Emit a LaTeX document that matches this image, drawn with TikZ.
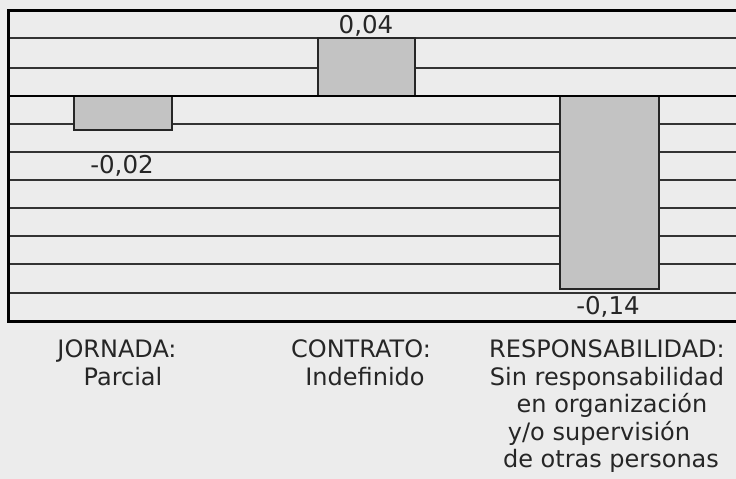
\documentclass[tikz,border=0pt]{standalone}
\usepackage{fontspec}
\setmainfont{DejaVu Sans}
\definecolor{bgc}{HTML}{ECECEC}
\definecolor{barc}{HTML}{C3C3C3}
\definecolor{gridc}{HTML}{333333}
\definecolor{txtc}{HTML}{262626}
\begin{document}
\begin{tikzpicture}[x=1pt,y=-1pt,
  gridline/.style={draw=gridc,line width=1.4pt},
  zeroline/.style={draw=black,line width=2.6pt},
  frameline/.style={draw=black,line width=3pt},
  barbox/.style={fill=barc,draw=black!85,line width=1.4pt},
  lbl/.style={anchor=base,inner sep=0pt,text=txtc,font=\fontsize{24}{28}\selectfont},
  vlbl/.style={lbl,font=\fontsize{24.5}{28}\selectfont}]
\useasboundingbox (0,0) rectangle (736,479);
\clip (0,0) rectangle (736,479);
\fill[bgc] (0,0) rectangle (736,479);
% grid
\foreach \y in {38,68,124,152,180,208,236,264,293}
  \draw[gridline] (8,\y) -- (740,\y);
% bars
\draw[barbox] (74,96) rectangle (172,130);
\draw[barbox] (318,38) rectangle (415,96);
\draw[barbox] (560,96) rectangle (659,289);
% zero line
\draw[zeroline] (8,96) -- (740,96);
% frame
\draw[frameline] (745,10) -- (8,10) -- (8,321) -- (745,321);
% value labels
\node[vlbl] (v2) at (366,33) {0,04};
\node[vlbl] (v1) at (122,173) {-0,02};
\node[vlbl] (v3) at (608,314.5) {-0,14};
% category labels
\node[lbl] (c1a) at (117,357) {JORNADA:};
\node[lbl] (c1b) at (123,385) {Parcial};
\node[lbl] (c2a) at (361,357) {CONTRATO:};
\node[lbl] (c2b) at (365,385) {Indefinido};
\node[lbl] (c3a) at (607,357) {RESPONSABILIDAD:};
\node[lbl] (c3b) at (607,385) {Sin responsabilidad};
\node[lbl] (c3c) at (612,412) {en organización};
\node[lbl] (c3d) at (599,440) {y/o supervisión};
\node[lbl] (c3e) at (611,467) {de otras personas};
\end{tikzpicture}
\end{document}
